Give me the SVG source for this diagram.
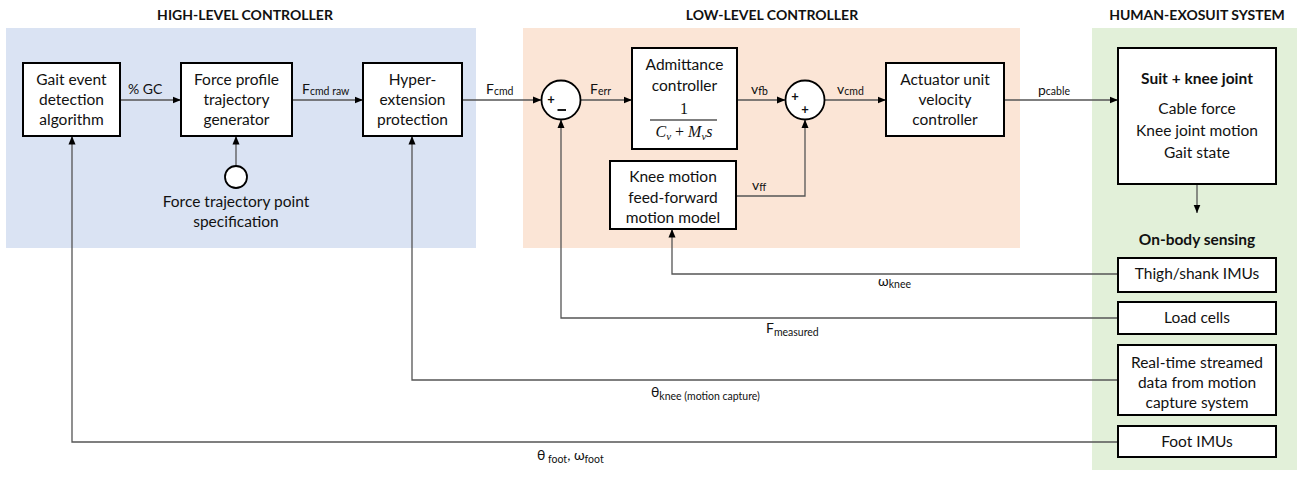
<svg xmlns="http://www.w3.org/2000/svg" width="1299" height="478" viewBox="0 0 1299 478">
<style>
text{font-family:Lato,"Liberation Sans",sans-serif;fill:#111;}
.t{font-size:15.5px;text-anchor:middle;}
.h{font-size:14px;font-weight:bold;text-anchor:middle;}
.b{fill:#fff;stroke:#000;stroke-width:2;}
.c{fill:#fff;stroke:#000;stroke-width:1.8;}
.ln{fill:none;stroke:#555;stroke-width:1.3;}
.lb{font-size:14px;}
.s{font-size:10.5px;}
.m{font-family:"Liberation Serif","DejaVu Serif",serif;font-size:16px;text-anchor:middle;}
.sg{font-size:13px;font-weight:bold;text-anchor:middle;}
</style>
<defs>
<marker id="ar" markerWidth="9" markerHeight="8" refX="8.5" refY="4" orient="auto" markerUnits="userSpaceOnUse">
<path d="M0,0.5 L8.5,4 L0,7.5 z" fill="#000"/>
</marker>
</defs>

<g id="panels">
<rect x="6" y="28" width="470" height="220" fill="#dae3f3"/>
<rect x="523" y="28" width="497" height="220" fill="#fbe5d6"/>
<rect x="1092" y="28" width="205" height="442" fill="#e2f0d9"/>
<text class="h" x="245" y="20">HIGH-LEVEL CONTROLLER</text>
<text class="h" x="772" y="20">LOW-LEVEL CONTROLLER</text>
<text class="h" x="1197" y="20">HUMAN-EXOSUIT SYSTEM</text>
</g>

<g id="connectors">
<line class="ln" x1="120" y1="100" x2="181" y2="100" marker-end="url(#ar)"/>
<line class="ln" x1="292" y1="100" x2="363" y2="100" marker-end="url(#ar)"/>
<line class="ln" x1="236" y1="166" x2="236" y2="136" marker-end="url(#ar)"/>
<line class="ln" x1="462" y1="100" x2="541.5" y2="100" marker-end="url(#ar)"/>
<line class="ln" x1="580.5" y1="100" x2="632" y2="100" marker-end="url(#ar)"/>
<line class="ln" x1="737" y1="100" x2="785.5" y2="100" marker-end="url(#ar)"/>
<line class="ln" x1="824.5" y1="100" x2="886" y2="100" marker-end="url(#ar)"/>
<line class="ln" x1="1004" y1="100" x2="1118" y2="100" marker-end="url(#ar)"/>
<polyline class="ln" points="736,196 805,196 805,119.5" marker-end="url(#ar)"/>
<line class="ln" x1="1197" y1="184" x2="1197" y2="213" marker-end="url(#ar)"/>
<polyline class="ln" points="1118,274 672,274 672,229" marker-end="url(#ar)"/>
<polyline class="ln" points="1118,318 561,318 561,119.5" marker-end="url(#ar)"/>
<polyline class="ln" points="1118,380 412,380 412,136" marker-end="url(#ar)"/>
<polyline class="ln" points="1118,442 72,442 72,136" marker-end="url(#ar)"/>
<text class="lb" x="128" y="94">% GC</text>
<text class="lb" x="302" y="94">F<tspan class="s" dy="1">cmd raw</tspan></text>
<text class="lb" x="486" y="94">F<tspan class="s" dy="1">cmd</tspan></text>
<text class="lb" x="590" y="94">F<tspan class="s" dy="1">err</tspan></text>
<text class="lb" x="751" y="94">v<tspan class="s" dy="1">fb</tspan></text>
<text class="lb" x="837" y="94">v<tspan class="s" dy="1">cmd</tspan></text>
<text class="lb" x="1038" y="95">p<tspan class="s" dy="0">cable</tspan></text>
<text class="lb" x="752" y="190">v<tspan class="s" dy="1">ff</tspan></text>
<text class="lb" x="878" y="286">ω<tspan class="s" dy="2">knee</tspan></text>
<text class="lb" x="766" y="333">F<tspan class="s" dy="3">measured</tspan></text>
<text class="lb" x="651" y="397">θ<tspan class="s" dy="3">knee (motion capture)</tspan></text>
<text class="lb" x="537" y="460">θ<tspan class="s" dy="3"> foot</tspan><tspan dy="-3">, ω</tspan><tspan class="s" dy="3">foot</tspan></text>
</g>

<g id="gait-event">
<rect class="b" x="23" y="63" width="97" height="73"/>
<text class="t" x="71.5" y="84.5">Gait event</text>
<text class="t" x="71.5" y="104.5">detection</text>
<text class="t" x="71.5" y="124.5">algorithm</text>
</g>

<g id="force-profile">
<rect class="b" x="181" y="63" width="111" height="73"/>
<text class="t" x="236.5" y="84.5">Force profile</text>
<text class="t" x="236.5" y="104.5">trajectory</text>
<text class="t" x="236.5" y="124.5">generator</text>
</g>

<g id="force-point">
<circle class="c" cx="236" cy="177" r="11"/>
<text class="t" x="236" y="207">Force trajectory point</text>
<text class="t" x="236" y="227">specification</text>
</g>

<g id="hyper">
<rect class="b" x="363" y="63" width="99" height="73"/>
<text class="t" x="412.5" y="84.5">Hyper-</text>
<text class="t" x="412.5" y="104.5">extension</text>
<text class="t" x="412.5" y="124.5">protection</text>
</g>

<g id="sum1">
<circle class="c" cx="561" cy="100" r="19.5"/>
<text class="sg" x="551" y="104">+</text>
<line x1="557.5" y1="110" x2="566" y2="110" stroke="#000" stroke-width="1.8"/>
</g>

<g id="admittance">
<rect class="b" x="632" y="48" width="105" height="101"/>
<text class="t" x="684.5" y="70">Admittance</text>
<text class="t" x="684.5" y="91">controller</text>
<text class="m" x="684" y="114">1</text>
<line x1="650" y1="120" x2="717" y2="120" stroke="#000" stroke-width="1.2"/>
<text class="m" x="684" y="137" font-style="italic">C<tspan font-size="11" dy="3">ν</tspan><tspan dy="-3" font-style="normal"> + </tspan>M<tspan font-size="11" dy="3">ν</tspan><tspan dy="-3">s</tspan></text>
</g>

<g id="sum2">
<circle class="c" cx="805" cy="100" r="19.5"/>
<text class="sg" x="795" y="101">+</text>
<text class="sg" x="805" y="114">+</text>
</g>

<g id="knee-ff">
<rect class="b" x="610" y="161" width="126" height="68"/>
<text class="t" x="673" y="182">Knee motion</text>
<text class="t" x="673" y="203">feed-forward</text>
<text class="t" x="673" y="223">motion model</text>
</g>

<g id="actuator">
<rect class="b" x="886" y="63" width="118" height="73"/>
<text class="t" x="945" y="84.5">Actuator unit</text>
<text class="t" x="945" y="104.5">velocity</text>
<text class="t" x="945" y="124.5">controller</text>
</g>

<g id="suit">
<rect class="b" x="1118" y="48" width="158" height="136"/>
<text class="t" x="1197" y="84" font-weight="bold">Suit + knee joint</text>
<text class="t" x="1197" y="114">Cable force</text>
<text class="t" x="1197" y="136">Knee joint motion</text>
<text class="t" x="1197" y="158">Gait state</text>
</g>

<g id="sensing">
<text class="t" x="1197" y="245" font-weight="bold">On-body sensing</text>
</g>

<g id="thigh-imu">
<rect class="b" x="1118" y="258" width="158" height="34"/>
<text class="t" x="1197" y="279">Thigh/shank IMUs</text>
</g>

<g id="load-cells">
<rect class="b" x="1118" y="302" width="158" height="32"/>
<text class="t" x="1197" y="323">Load cells</text>
</g>

<g id="mocap">
<rect class="b" x="1118" y="345" width="158" height="70"/>
<text class="t" x="1197" y="368">Real-time streamed</text>
<text class="t" x="1197" y="388">data from motion</text>
<text class="t" x="1197" y="408">capture system</text>
</g>

<g id="foot-imu">
<rect class="b" x="1118" y="426" width="158" height="31"/>
<text class="t" x="1197" y="447">Foot IMUs</text>
</g>
</svg>
